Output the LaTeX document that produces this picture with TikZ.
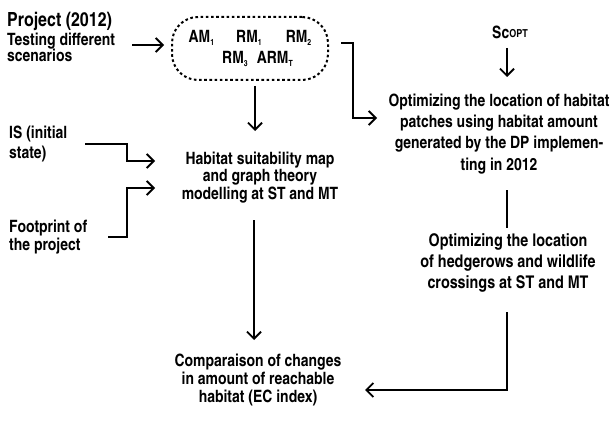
\documentclass[tikz,border=0pt]{standalone}
\usepackage{fontspec}
\setmainfont{texgyreheroscn-bold.otf}
\usetikzlibrary{arrows.meta,calc}
\newcommand{\sbs}[1]{\raisebox{-3pt}{\fontsize{8.5}{9}\selectfont #1}}
\begin{document}
\begin{tikzpicture}[x=1pt,y=-1pt,
  txt/.style={font=\fontsize{17}{21.3}\selectfont, align=center, inner sep=0pt, anchor=base},
  ltxt/.style={font=\fontsize{17}{18.5}\selectfont, align=left, inner sep=0pt, anchor=base west},
  arr/.style={line width=1.9pt, -{Straight Barb[length=7pt,width=14pt]}},
  ln/.style={line width=1.9pt},
  scenbox/.style={draw, line width=2pt, dash pattern=on 2.6pt off 2.6pt, rounded corners=26pt,
     minimum width=156pt, minimum height=63pt, align=center, inner sep=0pt,
     font=\fontsize{17}{21}\selectfont}
]
\useasboundingbox (0,0) rectangle (612,425);
% anchors "base" of multi-line nodes sit on the last line's baseline
\node[ltxt] (proj) at (7,61.5) {{\fontsize{19.5}{18.5}\selectfont Project (2012)}\\Testing different\\[-2.5pt]scenarios};
\node[scenbox] (scen) at (250,48.5) {\raisebox{2pt}{AM\sbs{1}\hspace{22pt}RM\sbs{1}\hspace{24pt}RM\sbs{2}}\\\raisebox{2pt}{\hspace*{15pt}RM\sbs{3}\hspace{9pt}ARM\sbs{T}}};
\node[ltxt] (is) at (9,158) {IS (initial\\[1.5pt]state)};
\node[ltxt] (fp) at (9,250.5) {Footprint of\\the project};
\node[txt, font=\fontsize{17}{17.5}\selectfont] (hsm) at (260,199) {Habitat suitability map\\and graph theory\\modelling at ST and MT};
\node[txt, font=\fontsize{17}{18}\selectfont] (comp) at (258,402) {Comparaison of changes\\in amount of reachable\\habitat (EC index)};
\node[txt] (sc) at (510,39) {Sc\raisebox{1.2pt}{\fontsize{11}{11}\selectfont OPT}};
\node[txt] (opt1) at (499,170) {Optimizing the location of habitat\\patches using habitat amount\\generated by the DP implemen-\\ting in 2012};
\node[txt, font=\fontsize{17.5}{21}\selectfont] (opt2) at (508,288) {Optimizing the location\\of hedgerows and wildlife\\crossings at ST and MT};

\draw[arr] ($(scen.west)+(-39,-3.5)$) -- ($(scen.west)+(-7,-3.5)$);
\draw[arr] ($(scen.south)+(5,5)$) -- ($(scen.south)+(5,50)$);
\draw[arr] ($(is.base west)+(76,-14)$) -- ++(42,0) |- ($(hsm.base)+(-105,-38)$);
\draw[arr] ($(fp.base west)+(99,-13.5)$) -| ($(hsm.base)+(-133,-11)$) -- ($(hsm.base)+(-105,-11)$);
\draw[arr] ($(hsm.base)+(-6,21)$) -- ($(comp.base)+(-4,-62)$);
\draw[arr] ($(scen.east)+(12,-5.5)$) -- ++(12,0) |- ($(opt1.base)+(-122,-52)$);
\draw[arr] ($(sc.base)+(-3,9)$) -- ($(opt1.base)+(8,-93)$);
\draw[ln] ($(opt1.base)+(8,20)$) -- ($(opt2.base)+(-1,-60)$);
\draw[arr] ($(opt2.base)+(-1,24)$) |- ($(comp.base)+(107,-12)$);
\end{tikzpicture}
\end{document}
